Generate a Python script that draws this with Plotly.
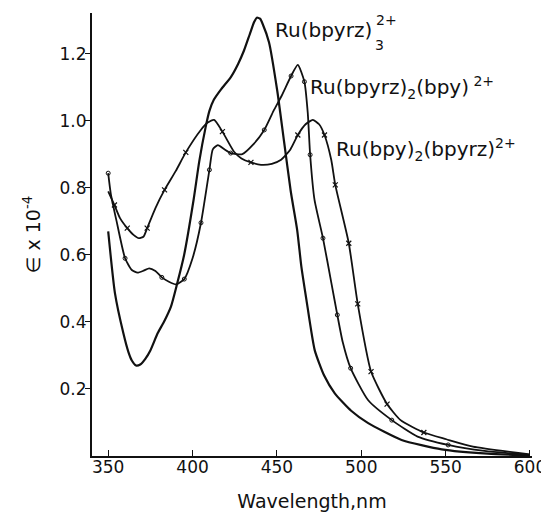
import plotly.graph_objects as go

# Ru(bpyrz)3 2+  (plain line)
wl1 = [350, 354, 359, 362, 364, 366.5, 369, 372, 375, 379.3, 383, 387.2, 390.8, 395, 400.6, 404, 407.7,
       410, 412.6, 417, 422.6, 427, 430.5, 434, 436.5, 438.1, 440, 441.5, 445.3, 450.2, 454.2, 458.2, 462, 464.5,
       467.5, 472.4, 478, 484.3, 494, 504.1, 523.9, 547.7, 575, 600]
eps1 = [0.67, 0.486, 0.366, 0.31, 0.285, 0.27, 0.273, 0.29, 0.315, 0.366, 0.40, 0.446, 0.513, 0.60, 0.764, 0.88, 0.98,
        1.03, 1.063, 1.095, 1.13, 1.17, 1.21, 1.26, 1.295, 1.308, 1.305, 1.29, 1.235, 1.09, 0.94, 0.79, 0.675, 0.565,
        0.466, 0.316, 0.24, 0.187, 0.135, 0.098, 0.048, 0.02, 0.007, 0.002]

# Ru(bpyrz)2(bpy) 2+  (line with open circles)
wl2 = [350, 351.5, 355, 360, 364, 367.4, 371, 374.3, 378, 381.8, 386, 390.2, 395.1, 400, 405, 410,
       412, 415, 419, 422.6, 429.5, 436, 442.5, 448, 452.5, 458.4, 462.4, 466.3, 468.3, 469.7,
       472.3, 477.3, 482.3, 485.8, 489, 493.7, 504, 518.1, 533.4, 551.5, 573, 600]
eps2 = [0.844, 0.784, 0.70, 0.59, 0.555, 0.547, 0.553, 0.56, 0.552, 0.533, 0.52, 0.512, 0.528, 0.59,
        0.696, 0.854, 0.915, 0.928, 0.915, 0.904, 0.901, 0.93, 0.973, 1.03, 1.072, 1.134, 1.167,
        1.117, 1.023, 0.899, 0.764, 0.65, 0.516, 0.421, 0.34, 0.262, 0.167, 0.107, 0.058, 0.033,
        0.015, 0.003]
mk2_wl = [350, 360, 381.8, 395.1, 405, 410, 422.6, 442.5, 458.4, 466.3, 469.7, 477.3, 485.8, 493.7, 518.1, 551.5]
mk2_eps = [0.844, 0.59, 0.533, 0.528, 0.696, 0.854, 0.904, 0.973, 1.134, 1.117, 0.899, 0.65, 0.421, 0.262, 0.107, 0.033]

# Ru(bpy)2(bpyrz) 2+  (line with x marks)
wl3 = [350, 353.7, 357, 361.3, 365, 368.2, 371, 373.1, 378, 383.4, 390, 396, 404.9, 409, 412.8,
       417.7, 424.6, 429, 434.6, 440.6, 447, 452.5, 458, 462.4, 467, 471.3, 475, 478.2, 482.2,
       484.6, 492.6, 497.9, 505.8, 515.3, 523.3, 537.1, 550.4, 566.2, 600]
eps3 = [0.79, 0.749, 0.71, 0.68, 0.66, 0.65, 0.655, 0.68, 0.74, 0.794, 0.85, 0.906, 0.973, 0.995,
        1.003, 0.968, 0.908, 0.888, 0.876, 0.869, 0.872, 0.884, 0.915, 0.958, 0.99, 1.003, 0.99,
        0.958, 0.884, 0.809, 0.635, 0.454, 0.252, 0.155, 0.107, 0.07, 0.05, 0.028, 0.005]
mk3_wl = [353.7, 361.3, 373.1, 383.4, 396, 417.7, 434.6, 462.4, 478.2, 484.6, 492.6, 497.9, 505.8, 515.3, 537.1]
mk3_eps = [0.749, 0.68, 0.68, 0.794, 0.906, 0.968, 0.876, 0.958, 0.958, 0.809, 0.635, 0.454, 0.252, 0.155, 0.07]

x_ticks = [350, 400, 450, 500, 550, 600]
y_ticks = [0.2, 0.4, 0.6, 0.8, 1.0, 1.2]
y_tick_labels = ["0.2", "0.4", "0.6", "0.8", "1.0", "1.2"]

FONT = "DejaVu Sans"
INK = "#111"
SMOOTH = 0.55

fig = go.Figure()
fig.add_trace(go.Scatter(x=wl1, y=eps1, mode="lines", line=dict(color=INK, width=2.2, shape="spline", smoothing=SMOOTH), hoverinfo="skip"))
fig.add_trace(go.Scatter(x=wl2, y=eps2, mode="lines", line=dict(color=INK, width=1.8, shape="spline", smoothing=SMOOTH), hoverinfo="skip"))
fig.add_trace(go.Scatter(x=mk2_wl, y=mk2_eps, mode="markers",
                         marker=dict(symbol="circle-open", size=4, color=INK, line=dict(width=1)), hoverinfo="skip"))
fig.add_trace(go.Scatter(x=wl3, y=eps3, mode="lines", line=dict(color=INK, width=1.8, shape="spline", smoothing=SMOOTH), hoverinfo="skip"))
fig.add_trace(go.Scatter(x=mk3_wl, y=mk3_eps, mode="markers",
                         marker=dict(symbol="x-thin-open", size=5, color=INK, line=dict(width=1.2, color=INK)), hoverinfo="skip"))

lab_font = dict(family=FONT, size=20, color=INK)
small_font = dict(family=FONT, size=14, color=INK)
fig.add_annotation(x=447.7, y=1.27, xref="x", yref="y", text="Ru(bpyrz)", showarrow=False,
                   xanchor="left", yanchor="middle", font=lab_font)
fig.add_annotation(x=507.5, y=1.30, xref="x", yref="y", text="2+", showarrow=False,
                   xanchor="left", yanchor="middle", font=small_font)
fig.add_annotation(x=507.0, y=1.227, xref="x", yref="y", text="3", showarrow=False,
                   xanchor="left", yanchor="middle", font=small_font)
fig.add_annotation(x=468.5, y=1.10, xref="x", yref="y", text="Ru(bpyrz)<sub>2</sub>(bpy)<sup> 2+</sup>",
                   showarrow=False, xanchor="left", yanchor="middle", font=lab_font)
fig.add_annotation(x=483.9, y=0.915, xref="x", yref="y", text="Ru(bpy)<sub>2</sub>(bpyrz)<sup>2+</sup>",
                   showarrow=False, xanchor="left", yanchor="middle", font=lab_font)

# the page adds an 8px body margin; figure is sized so the plot lands where the reference has it
fig.update_layout(
    width=541, height=504,
    margin=dict(l=84, r=17, t=5, b=56),
    paper_bgcolor="white", plot_bgcolor="white",
    showlegend=False,
    font=dict(family=FONT, color=INK),
    xaxis=dict(range=[340.4, 601.2], tickvals=x_ticks, ticks="inside", ticklen=6, tickwidth=1.2,
               tickcolor=INK, showline=True, linecolor=INK, linewidth=2, showgrid=False, zeroline=False,
               automargin=False, ticklabelstandoff=-5, tickfont=dict(family=FONT, size=17, color=INK),
               title=dict(text="Wavelength,nm", font=dict(family=FONT, size=19, color=INK), standoff=21)),
    yaxis=dict(range=[0, 1.322], tickvals=y_ticks, ticktext=y_tick_labels, ticks="outside", ticklen=5,
               tickwidth=1.2, tickcolor=INK, showline=True, linecolor=INK, linewidth=2, showgrid=False,
               zeroline=False, automargin=False, ticklabelstandoff=-5, tickfont=dict(family=FONT, size=17, color=INK),
               title=dict(text="∈ x 10<sup>-4</sup>", font=dict(family=FONT, size=19, color=INK), standoff=14)),
)

fig.write_html("out.html")
